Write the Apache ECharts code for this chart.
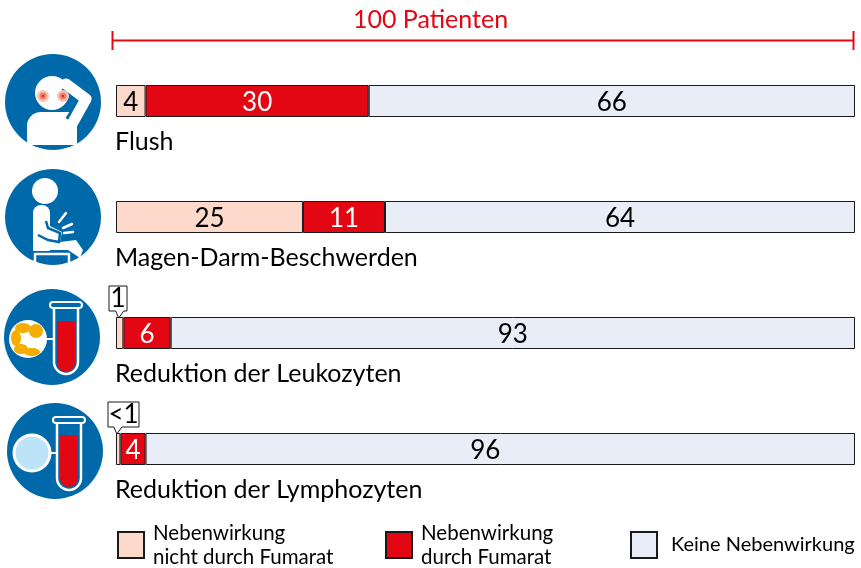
<!DOCTYPE html>
<html>
<head>
<meta charset="utf-8">
<title>Nebenwirkungen</title>
<script src="https://cdn.jsdelivr.net/npm/echarts@6/dist/echarts.min.js"></script>
<style>
html, body { margin: 0; padding: 0; background: #fff; }
#main { width: 861px; height: 568px; }
</style>
</head>
<body>
<div id="main"></div>
<script>
var categories = ['Flush', 'Magen-Darm-Beschwerden', 'Reduktion der Leukozyten', 'Reduktion der Lymphozyten'];
var nichtFumarat = [4, 25.3, 1, 0.6];
var durchFumarat = [30.2, 11.1, 6.4, 3.4];
var keine = [65.8, 63.6, 92.6, 96];
var labelsNicht = ['4', '25', '', ''];
var labelsDurch = ['30', '11', '6', '4'];
var labelsKeine = ['66', '64', '93', '96'];
var names = ['Nebenwirkung\nnicht durch Fumarat', 'Nebenwirkung\ndurch Fumarat', 'Keine Nebenwirkung'];

var FONT = 'Lato, Roboto, sans-serif';
var BLUE = '#0069aa', RED = '#e30613', PEACH = '#fdd9cb', PALE = '#e8edf8', INK = '#1a1a1a';

var chart = echarts.init(document.getElementById('main'));

function makeSeries(name, values, labels, fill, textColor) {
    return {
        name: name,
        type: 'bar',
        stack: 'total',
        barWidth: 32,
        data: values.slice(),
        itemStyle: { color: fill, borderColor: INK, borderWidth: 1 },
        label: {
            show: true,
            position: 'inside',
            offset: [0, 2],
            color: textColor,
            fontFamily: FONT,
            fontSize: 26,
            formatter: function (p) { return labels[p.dataIndex]; }
        }
    };
}

function makeLegend(name, left, top, size, gap) {
    return {
        data: [name],
        left: left,
        top: top,
        padding: 0,
        itemWidth: 26,
        itemHeight: 26,
        itemGap: 0,
        icon: 'rect',
        selectedMode: false,
        textStyle: { fontFamily: FONT, fontSize: size, lineHeight: 24, color: '#000', padding: [0, 0, 0, gap] }
    };
}

var keineSeries = makeSeries(names[2], keine, labelsKeine, PALE, '#000');
// im Original steht die 96 links von der Balkenmitte
keineSeries.data[3] = { value: keine[3], label: { offset: [-15, 2] } };

chart.setOption({
    animation: false,
    title: {
        text: '100 Patienten',
        left: 'center',
        top: 2,
        textStyle: { color: RED, fontFamily: FONT, fontSize: 25, fontWeight: 'normal' }
    },
    legend: [
        makeLegend(names[0], 117, 521, 20.5, 4),
        makeLegend(names[1], 385, 521, 20.5, 4),
        makeLegend(names[2], 630, 531, 20, 9)
    ],
    grid: { left: 116, top: 43, width: 739, height: 464 },
    xAxis: { type: 'value', min: 0, max: 100, show: false },
    yAxis: {
        type: 'category',
        inverse: true,
        data: categories,
        z: 5,
        axisLine: { show: false },
        axisTick: { show: false },
        axisLabel: {
            show: true,
            inside: true,
            interval: 0,
            margin: -1,
            align: 'left',
            verticalAlign: 'top',
            lineHeight: 27,
            color: '#000',
            fontFamily: FONT,
            fontSize: 25,
            // leere erste Zeile schiebt den Namen unter den Balken
            formatter: function (v) { return '\n' + v; }
        }
    },
    series: [
        makeSeries(names[0], nichtFumarat, labelsNicht, PEACH, '#000'),
        makeSeries(names[1], durchFumarat, labelsDurch, RED, '#fff'),
        keineSeries
    ]
});

// Symbole links
function tube(x, y, redTop) {
    return [
        { type: 'rect', shape: { x: x + 4, y: y + 4, width: 24, height: 66 + (y > 400 ? 3 : 2), r: [0, 0, 12, 12] }, style: { fill: BLUE, stroke: '#fff', lineWidth: 2.5 } },
        { type: 'rect', shape: { x: x + 7, y: redTop, width: 18, height: y + 70 - redTop, r: [0, 0, 9, 9] }, style: { fill: RED } },
        { type: 'rect', shape: { x: x, y: y, width: 32, height: 6, r: 3 }, style: { fill: BLUE, stroke: '#fff', lineWidth: 2 } }
    ];
}
function disc(cx, cy, r) {
    return { type: 'circle', shape: { cx: cx, cy: cy, r: r }, style: { fill: BLUE } };
}
function dot(cx, cy, r, fill) {
    return { type: 'circle', shape: { cx: cx, cy: cy, r: r }, style: { fill: fill } };
}
function stroke(points, width) {
    return { type: 'polyline', shape: { points: points }, style: { fill: 'none', stroke: '#fff', lineWidth: width, lineCap: 'round', lineJoin: 'round' } };
}
function blob(cx, cy, rx, ry) {
    return { type: 'ellipse', shape: { cx: cx, cy: cy, rx: rx, ry: ry }, style: { fill: '#f5ae00' } };
}

var gfx = [
    // Klammer oben
    { type: 'line', shape: { x1: 112.5, y1: 40.5, x2: 853.5, y2: 40.5 }, style: { stroke: RED, lineWidth: 2 } },
    { type: 'line', shape: { x1: 112.5, y1: 31, x2: 112.5, y2: 50 }, style: { stroke: RED, lineWidth: 2 } },
    { type: 'line', shape: { x1: 853.5, y1: 31, x2: 853.5, y2: 50 }, style: { stroke: RED, lineWidth: 2 } },

    // Flush
    disc(53, 102, 48),
    dot(52, 93, 17, '#fff'),
    { type: 'rect', shape: { x: 27, y: 112, width: 50, height: 33, r: [14, 0, 0, 0] }, style: { fill: '#fff' } },
    { type: 'polyline', shape: { points: [[66, 84], [86, 99], [72, 122]] }, style: { fill: 'none', stroke: BLUE, lineWidth: 15, lineJoin: 'round' } },
    stroke([[66, 84], [86, 99], [72, 124]], 11),
    dot(43, 96, 6, '#f8c4b4'), dot(43, 96, 3.5, '#ef7f6a'), dot(43, 96, 1, RED),
    dot(63, 96, 6, '#f8c4b4'), dot(63, 96, 3.5, '#ef7f6a'), dot(63, 96, 1, RED),

    // Magen-Darm
    disc(53, 217, 48),
    dot(45, 191, 13, '#fff'),
    { type: 'rect', shape: { x: 33, y: 205, width: 17, height: 46, r: [8, 8, 0, 0] }, style: { fill: '#fff' } },
    { type: 'polygon', shape: { points: [[36, 222], [46, 220], [50, 226], [62, 232], [60, 242], [76, 240], [83, 250], [80, 258], [68, 250], [36, 250]] }, style: { fill: '#fff' } },
    { type: 'polyline', shape: { points: [[46, 221], [48, 228], [60, 233], [59, 242], [48, 240], [38, 235]] }, style: { fill: 'none', stroke: BLUE, lineWidth: 2.5 } },
    stroke([[35, 263], [35, 254], [69, 254], [69, 263]], 2.5),
    stroke([[59, 222], [66, 213]], 2.5),
    stroke([[63, 228], [72, 224]], 2.5),
    stroke([[64, 233], [73, 232]], 2.5),

    // Leukozyten
    disc(52, 337, 48),
    dot(28, 339, 19, '#fff'),
    blob(23, 328, 8, 5), blob(36, 331, 7, 7), blob(16, 338, 5, 8), blob(21, 349, 7, 5), blob(32, 352, 8, 4),
    stroke([[47, 339], [65, 339]], 2)
].concat(tube(50, 302, 321)).concat([
    // Lymphozyten
    disc(55, 451, 48),
    { type: 'circle', shape: { cx: 32, cy: 453, r: 18 }, style: { fill: '#bde3f8', stroke: '#fff', lineWidth: 3 } },
    stroke([[51, 453], [67, 453]], 2)
]).concat(tube(53, 417, 435));

// Kleine Hinweise ueber den schmalen Balken
function callout(row, value, text, left, right) {
    var p = chart.convertToPixel({ xAxisIndex: 0, yAxisIndex: 0 }, [value, row]);
    var tipY = Math.round(p[1]) - 16 + 1;
    var bottom = tipY - 7, top = bottom - 25, tipX = p[0] - 1;
    gfx.push({
        type: 'polygon',
        z: 10,
        shape: { points: [[left, top], [right, top], [right, bottom], [tipX + 5, bottom], [tipX, tipY], [tipX - 3, bottom], [left, bottom]] },
        style: { fill: '#fff', stroke: INK, lineWidth: 1 }
    });
    gfx.push({
        type: 'text',
        z: 11,
        style: { text: text, x: (left + right) / 2, y: top + 13, align: 'center', verticalAlign: 'middle', fontFamily: FONT, fontSize: 26, fill: '#000' }
    });
}
callout(2, 0.5, '1', 109, 127);
callout(3, 0.25, '<1', 108, 139);

chart.setOption({ graphic: { elements: gfx } });
</script>
</body>
</html>
